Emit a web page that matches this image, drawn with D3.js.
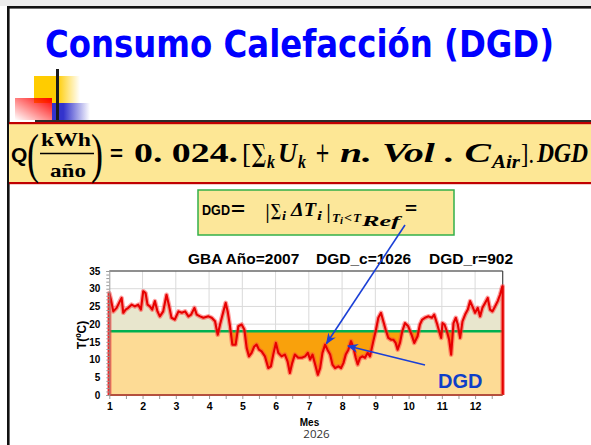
<!DOCTYPE html>
<html>
<head>
<meta charset="utf-8">
<script src="https://cdn.jsdelivr.net/npm/d3@7"></script>
<style>
html, body { margin: 0; padding: 0; background: #fff; overflow: hidden; }
svg { display: block; }
</style>
</head>
<body>
<svg id="slide" width="591" height="445"></svg>
<script>
// daily temperature (month as decimal, ºC)
const mes = [1.00,1.05,1.12,1.22,1.32,1.37,1.42,1.49,1.57,1.67,1.77,1.87,1.95,2.02,2.09,2.15,2.22,2.29,2.37,2.45,2.52,2.62,2.72,2.79,2.87,2.97,3.08,3.18,3.28,3.38,3.46,3.56,3.63,3.73,3.83,
  3.98,4.08,4.18,4.26,4.33,4.43,4.50,4.56,4.63,4.70,4.80,4.88,4.98,5.06,5.13,5.20,5.28,5.36,5.43,5.50,5.58,5.68,5.78,5.86,5.93,6.01,6.08,6.18,6.28,6.36,6.43,6.50,6.58,6.68,6.79,
  6.89,6.97,7.04,7.11,7.19,7.27,7.34,7.41,7.49,7.56,7.64,7.71,7.79,7.89,7.97,8.04,8.11,8.19,8.27,8.34,8.41,8.47,8.54,8.61,8.69,8.77,8.84,8.94,9.01,9.09,9.17,9.24,9.31,9.39,9.47,9.54,9.61,9.67,9.74,9.81,9.89,
  9.99,10.09,10.17,10.27,10.34,10.41,10.49,10.60,10.70,10.77,10.85,10.92,10.98,11.02,11.08,11.15,11.22,11.28,11.35,11.42,11.48,11.55,11.62,11.70,11.78,11.85,11.92,12.00,12.08,12.15,12.22,12.30,12.38,12.45,12.52,12.60,12.68,12.75,12.82];
const temp = [28.8,26.9,23.6,24.6,26.5,27.4,23.2,24.1,24.6,25.5,25.0,25.5,24.1,29.3,28.8,25.5,25.0,24.1,26.5,23.6,22.2,23.6,28.3,25.5,21.8,21.3,23.6,23.2,23.6,22.2,22.7,24.6,22.7,22.2,21.8,
  22.2,21.8,20.8,17.0,19.9,23.6,26.0,23.6,19.4,14.2,14.2,19.4,19.9,18.5,13.3,10.9,11.9,13.7,14.2,12.8,12.3,10.9,7.6,8.1,11.4,14.7,11.9,10.9,11.4,9.5,6.2,9.0,11.4,10.5,10.5,
  10.9,11.9,10.0,11.4,8.6,5.7,7.6,11.9,14.2,12.8,11.4,8.6,7.6,8.1,7.6,9.0,11.4,12.8,15.2,13.3,10.5,8.6,10.5,10.9,10.5,11.9,10.9,15.2,18.0,21.8,23.2,20.8,18.5,16.1,15.6,15.6,14.7,12.8,14.7,18.0,20.3,
  19.4,17.0,14.7,16.6,19.9,21.3,21.8,22.2,21.8,22.7,20.3,18.0,16.1,20.3,19.9,18.0,15.6,11.4,20.3,21.8,19.9,16.1,20.8,22.7,24.1,26.5,25.0,23.2,24.6,22.2,24.6,26.0,27.4,24.1,23.6,25.0,26.5,28.3,30.7];
const tRef = 18;
const yTicks = [0, 5, 10, 15, 20, 25, 30, 35];
const xTicks = [1, 2, 3, 4, 5, 6, 7, 8, 9, 10, 11, 12];
const chartTitle = ['GBA Año=2007', 'DGD_c=1026', 'DGD_r=902'];

const svg = d3.select('#slide');
const defs = svg.append('defs');

function linGrad(id, x1, y1, x2, y2, stops) {
  const g = defs.append('linearGradient').attr('id', id)
    .attr('x1', x1).attr('y1', y1).attr('x2', x2).attr('y2', y2);
  stops.forEach(s => g.append('stop').attr('offset', s[0]).attr('stop-color', s[1]).attr('stop-opacity', s[2]));
}
linGrad('gYellow', 0, 0, 1, 0, [[0, '#ffcc00', 1], [0.5, '#ffcc00', 1], [1, '#ffcc00', 0]]);
linGrad('gRed', 1, 0, 0, 1, [[0, '#ff0000', 1], [1, '#ff0000', 0]]);
linGrad('gBlue', 0, 0, 1, 0, [[0, '#3333cc', 1], [0.3, '#3333cc', 1], [1, '#3333cc', 0]]);

defs.append('marker').attr('id', 'arrow')
  .attr('viewBox', '0 0 10 10').attr('refX', 9).attr('refY', 5)
  .attr('markerWidth', 7).attr('markerHeight', 7).attr('orient', 'auto')
  .append('path').attr('d', 'M0,1 L10,5 L0,9 L3,5 z').attr('fill', '#1a3fd6');

// slide frame
svg.append('rect').attr('x', 0).attr('y', 0).attr('width', 591).attr('height', 6).attr('fill', '#ececec');
svg.append('rect').attr('x', 7).attr('y', 6).attr('width', 584).attr('height', 2.6).attr('fill', '#111');
svg.append('rect').attr('x', 7).attr('y', 6).attr('width', 2.6).attr('height', 439).attr('fill', '#111');

// slide title
svg.append('text').attr('x', 45).attr('y', 57)
  .attr('font-family', "'DejaVu Sans Condensed', 'DejaVu Sans', sans-serif")
  .attr('font-weight', 'bold').attr('font-size', 37).attr('fill', '#0000ff')
  .attr('textLength', 509).attr('lengthAdjust', 'spacingAndGlyphs')
  .text('Consumo Calefacción (DGD)');

// bullet decoration
svg.append('rect').attr('x', 34).attr('y', 76).attr('width', 46).attr('height', 27).attr('fill', 'url(#gYellow)');
svg.append('rect').attr('x', 15).attr('y', 98).attr('width', 37).attr('height', 22).attr('fill', 'url(#gRed)');
svg.append('rect').attr('x', 52).attr('y', 103).attr('width', 38).attr('height', 17).attr('fill', 'url(#gBlue)');
svg.append('rect').attr('x', 56).attr('y', 69).attr('width', 3).attr('height', 52).attr('fill', '#1a1a1a');
svg.append('rect').attr('x', 35).attr('y', 120).attr('width', 556).attr('height', 2).attr('fill', '#2b2b2b');

// formula band
svg.append('rect').attr('x', 9).attr('y', 123).attr('width', 582).attr('height', 60).attr('fill', '#fde795');
svg.append('rect').attr('x', 9).attr('y', 122).attr('width', 582).attr('height', 2.2).attr('fill', '#c00000');
svg.append('rect').attr('x', 9).attr('y', 182).attr('width', 582).attr('height', 2.2).attr('fill', '#c00000');

const serif = "'Liberation Serif', 'DejaVu Serif', serif";
const dserif = "'DejaVu Serif', serif";
const sans = "'Liberation Sans', Arial, sans-serif";
function mtext(str, x, yb, size, opts) {
  opts = opts || {};
  const t = svg.append('text').attr('x', x).attr('y', yb)
    .attr('font-family', opts.family || serif)
    .attr('font-weight', opts.weight || 'bold')
    .attr('font-style', opts.italic ? 'italic' : 'normal')
    .attr('font-size', size).attr('fill', opts.fill || '#000')
    .attr('xml:space', 'preserve')
    .text(str);
  if (opts.len) t.attr('textLength', opts.len).attr('lengthAdjust', 'spacingAndGlyphs');
  return t;
}
mtext('Q', 11, 162, 21, {family: sans});
mtext('(', 27, 172, 54, {weight: 'normal', len: 12});
mtext('kWh', 41, 146, 19, {len: 50});
svg.append('line').attr('x1', 40).attr('x2', 94).attr('y1', 153.5).attr('y2', 153.5).attr('stroke', '#000').attr('stroke-width', 1.6);
mtext('año', 50, 177, 19, {len: 36});
mtext(')', 91, 172, 54, {weight: 'normal', len: 12});
mtext('=', 109, 162, 27, {family: dserif, weight: 'normal', len: 15});
mtext('0. 024.', 134, 162, 28, {len: 104});
mtext('[', 242, 163, 28, {weight: 'normal', len: 9});
mtext('∑', 252, 162, 25, {family: dserif, len: 14});
mtext('k', 267, 168, 18, {italic: true, len: 8});
mtext('U', 278, 162, 28, {italic: true, len: 19});
mtext('k', 298, 168, 18, {italic: true, len: 8});
mtext('+', 315, 162, 27, {family: dserif, weight: 'normal', len: 15});
mtext('n. Vol . C', 340, 162, 28, {italic: true, len: 151});
mtext('Air', 492, 168, 19, {italic: true, len: 28});
mtext('].', 521, 163, 28, {weight: 'normal', len: 13});
mtext('DGD', 537, 162, 28, {italic: true, len: 51});

// DGD definition box
svg.append('rect').attr('x', 198).attr('y', 190).attr('width', 256).attr('height', 45)
  .attr('fill', '#fce79a').attr('stroke', '#33b04a').attr('stroke-width', 1.5);
mtext('DGD', 202, 215, 14, {family: sans, len: 28});
mtext('=', 231, 215, 18, {family: sans, len: 14});
mtext('|', 265, 218, 22, {weight: 'normal', len: 5});
mtext('∑', 271, 216, 17, {family: dserif, len: 10});
mtext('i', 282, 220, 13, {italic: true, len: 4});
mtext('ΔT', 291, 216, 18, {italic: true, len: 25});
mtext('i', 317, 220, 13, {italic: true, len: 5});
mtext('|', 326, 218, 22, {weight: 'normal', len: 5});
mtext('T', 332, 222, 13, {italic: true, len: 8});
mtext('i', 340, 224, 10, {italic: true, len: 3});
mtext('<', 344, 222, 13, {len: 8});
mtext('T', 353, 222, 13, {italic: true, len: 8});
mtext('Ref', 362, 226, 14, {italic: true, len: 38});
mtext('=', 405, 214, 16, {family: sans, len: 12});

// ---- chart ----
const x = d3.scaleLinear().domain([1, 12.83]).range([109.3, 502.7]);
const y = d3.scaleLinear().domain([0, 35]).range([395, 271]);
const data = mes.map((m, i) => ({m: m, t: temp[i]}));
const plot = svg.append('g');

// background + grid
plot.append('rect').attr('x', x(1)).attr('y', y(35)).attr('width', x(12.83) - x(1)).attr('height', y(0) - y(35)).attr('fill', '#fff');
plot.selectAll('.hg').data(yTicks.slice(1)).enter().append('line')
  .attr('x1', x(1)).attr('x2', x(12.83)).attr('y1', d => y(d)).attr('y2', d => y(d))
  .attr('stroke', '#dadada').attr('stroke-width', 1);
plot.selectAll('.vg').data(xTicks.slice(1)).enter().append('line')
  .attr('x1', d => x(d)).attr('x2', d => x(d)).attr('y1', y(35)).attr('y2', y(0))
  .attr('stroke', '#dadada').attr('stroke-width', 1);

// below reference: light orange band
plot.append('rect').attr('x', x(1)).attr('y', y(tRef)).attr('width', x(12.83) - x(1)).attr('height', y(0) - y(tRef)).attr('fill', '#fddb95');

defs.append('clipPath').attr('id', 'clipAbove').append('rect')
  .attr('x', x(1)).attr('y', y(35)).attr('width', x(12.83) - x(1)).attr('height', y(tRef) - y(35));
defs.append('clipPath').attr('id', 'clipBelow').append('rect')
  .attr('x', x(1)).attr('y', y(tRef)).attr('width', x(12.83) - x(1)).attr('height', y(0) - y(tRef));

const band = d3.area().x(d => x(d.m)).y0(y(tRef)).y1(d => y(d.t));
plot.append('path').datum(data).attr('d', band).attr('fill', '#e8e6cd').attr('clip-path', 'url(#clipAbove)');
plot.append('path').datum(data).attr('d', band).attr('fill', '#f9a10c').attr('clip-path', 'url(#clipBelow)');

// frame
plot.append('line').attr('x1', x(1)).attr('x2', x(12.83)).attr('y1', y(35)).attr('y2', y(35)).attr('stroke', '#333').attr('stroke-width', 1.2);
plot.append('line').attr('x1', x(12.83)).attr('x2', x(12.83)).attr('y1', y(35)).attr('y2', y(0)).attr('stroke', '#444').attr('stroke-width', 1.2);

// reference line
plot.append('line').attr('x1', x(1)).attr('x2', x(12.83)).attr('y1', y(tRef)).attr('y2', y(tRef))
  .attr('stroke', '#00b050').attr('stroke-width', 2.6);

// temperature curve, closed down to zero at both ends
const closed = [{m: 1, t: 0}].concat(data, [{m: 12.83, t: data[data.length - 1].t}, {m: 12.83, t: 0}]);
const line = d3.line().x(d => x(d.m)).y(d => y(d.t));
plot.append('path').datum(closed).attr('d', line).attr('fill', 'none')
  .attr('stroke', '#ff4040').attr('stroke-opacity', 0.5).attr('stroke-width', 4.6).attr('stroke-linejoin', 'round');
plot.append('path').datum(closed).attr('d', line).attr('fill', 'none')
  .attr('stroke', '#e60000').attr('stroke-width', 2.1).attr('stroke-linejoin', 'round');
plot.append('line').attr('x1', x(1)).attr('x2', x(12.83)).attr('y1', y(0)).attr('y2', y(0))
  .attr('stroke', '#b4503e').attr('stroke-width', 2.2);

// axes
const yAxisMinor = d3.axisLeft(y).tickValues(d3.range(0, 36, 1)).tickSize(3).tickFormat('');
plot.append('g').attr('transform', `translate(${x(1)},0)`).call(yAxisMinor)
  .call(g => g.selectAll('line, path').attr('stroke', '#999'));
const yAxis = d3.axisLeft(y).tickValues(yTicks).tickSize(0).tickPadding(9);
plot.append('g').attr('transform', `translate(${x(1)},0)`).call(yAxis)
  .call(g => g.select('.domain').remove())
  .call(g => g.selectAll('text').attr('font-family', sans).attr('font-weight', 'bold').attr('font-size', 10).attr('fill', '#000'));

const xAxisMinor = d3.axisBottom(x).tickValues(d3.range(1, 12.9, 0.5)).tickSize(3).tickFormat('');
plot.append('g').attr('transform', `translate(0,${y(0) + 1})`).call(xAxisMinor)
  .call(g => g.select('.domain').remove())
  .call(g => g.selectAll('line').attr('stroke', '#999'));
const xAxis = d3.axisBottom(x).tickValues(xTicks).tickSize(0).tickPadding(8);
plot.append('g').attr('transform', `translate(0,${y(0)})`).call(xAxis)
  .call(g => g.select('.domain').remove())
  .call(g => g.selectAll('text').attr('font-family', sans).attr('font-weight', 'bold').attr('font-size', 10.5).attr('fill', '#000'));

// chart labels
const titleX = [188, 316, 429];
chartTitle.forEach((s, i) => {
  svg.append('text').attr('x', titleX[i]).attr('y', 264)
    .attr('font-family', sans).attr('font-weight', 'bold').attr('font-size', 15.5).attr('fill', '#000').text(s);
});
svg.append('text').attr('transform', 'translate(86,335) rotate(-90)').attr('text-anchor', 'middle')
  .attr('font-family', sans).attr('font-weight', 'bold').attr('font-size', 12).text('T(ºC)');
svg.append('text').attr('x', 309.5).attr('y', 426).attr('text-anchor', 'middle')
  .attr('font-family', sans).attr('font-weight', 'bold').attr('font-size', 10).text('Mes');
svg.append('text').attr('x', 316.5).attr('y', 438).attr('text-anchor', 'middle')
  .attr('font-family', "'Open Sans', sans-serif").attr('font-size', 11.5).attr('fill', '#333').text('2026');

// arrows + label
svg.append('line').attr('x1', 405).attr('y1', 225).attr('x2', 326.5).attr('y2', 343.5)
  .attr('stroke', '#1a3fd6').attr('stroke-width', 1.6).attr('marker-end', 'url(#arrow)');
svg.append('line').attr('x1', 425).attr('y1', 365).attr('x2', 348).attr('y2', 346)
  .attr('stroke', '#1a3fd6').attr('stroke-width', 1.6).attr('marker-end', 'url(#arrow)');
svg.append('text').attr('x', 438).attr('y', 388)
  .attr('font-family', sans).attr('font-weight', 'bold').attr('font-size', 20).attr('fill', '#0f3fc8').text('DGD');
</script>
</body>
</html>
